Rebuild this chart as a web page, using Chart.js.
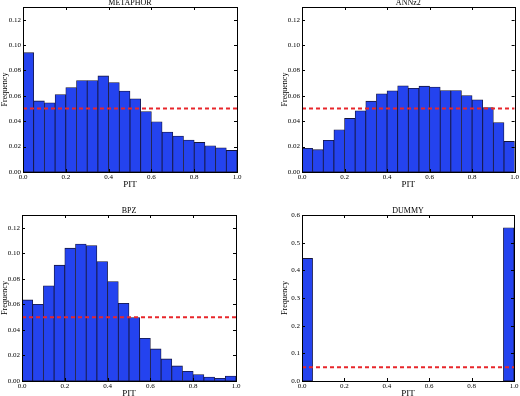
<!DOCTYPE html>
<html lang="en">
<head>
<meta charset="UTF-8">
<title>PIT histograms</title>
<script src="https://cdn.jsdelivr.net/npm/chart.js"></script>
<style>
    html, body {
        margin: 0;
        padding: 0;
        width: 520px;
        height: 396px;
        overflow: hidden;
        background: #ffffff;
    }
    .panel {
        position: absolute;
    }
</style>
</head>
<body>
<div class="panel" style="left:0;top:0;width:260px;height:200px"><canvas id="cMetaphor"></canvas></div>
<div class="panel" style="left:275px;top:0;width:245px;height:200px"><canvas id="cAnnz"></canvas></div>
<div class="panel" style="left:0;top:200px;width:260px;height:200px"><canvas id="cBpz"></canvas></div>
<div class="panel" style="left:275px;top:200px;width:245px;height:200px"><canvas id="cDummy"></canvas></div>

<script>
// bin centres of the 20 PIT bins (width 0.05)
const pitBins = [0.025, 0.075, 0.125, 0.175, 0.225, 0.275, 0.325, 0.375, 0.425, 0.475,
                 0.525, 0.575, 0.625, 0.675, 0.725, 0.775, 0.825, 0.875, 0.925, 0.975];

// frequencies
const metaphor = [0.094, 0.056, 0.0545, 0.061, 0.0665, 0.072, 0.072, 0.0757, 0.0705, 0.0637,
                  0.0576, 0.0477, 0.0396, 0.0314, 0.0283, 0.0252, 0.0233, 0.0207, 0.0191, 0.017];
const annz2 = [0.0186, 0.0176, 0.0249, 0.0333, 0.0422, 0.0482, 0.0558, 0.0616, 0.064, 0.0679,
               0.066, 0.0676, 0.067, 0.0642, 0.0642, 0.0603, 0.0569, 0.0508, 0.039, 0.0241];
const bpz = [0.0635, 0.0601, 0.0745, 0.0907, 0.104, 0.1072, 0.1061, 0.0936, 0.0779, 0.0609,
             0.0497, 0.0335, 0.0251, 0.0173, 0.0118, 0.0076, 0.005, 0.0031, 0.0021, 0.0039];
const dummy = [0.443, 0, 0, 0, 0, 0, 0, 0, 0, 0,
               0, 0, 0, 0, 0, 0, 0, 0, 0, 0.554];

// uniform reference level
const uniformLevel = [0.05, 0.05];
const uniformX = [0, 1];

const FONT = "'Liberation Serif', 'DejaVu Serif', serif";

// frame, inward ticks and panel title
const framePlugin = {
    id: 'frame',
    afterDatasetsDraw(chart, args, opts) {
        const ctx = chart.ctx;
        const a = chart.chartArea;
        ctx.save();
        ctx.strokeStyle = '#000';
        ctx.lineWidth = 1;
        ctx.beginPath();
        chart.scales.x.ticks.forEach(t => {
            const px = Math.round(chart.scales.x.getPixelForValue(t.value)) + 0.5;
            ctx.moveTo(px, a.bottom); ctx.lineTo(px, a.bottom - 3);
            ctx.moveTo(px, a.top); ctx.lineTo(px, a.top + 3);
        });
        chart.scales.y.ticks.forEach(t => {
            const py = Math.round(chart.scales.y.getPixelForValue(t.value)) + 0.5;
            ctx.moveTo(a.left, py); ctx.lineTo(a.left + 3, py);
            ctx.moveTo(a.right, py); ctx.lineTo(a.right - 3, py);
        });
        ctx.stroke();
        ctx.strokeRect(Math.round(a.left) + 0.5, Math.round(a.top) + 0.5,
                       Math.round(a.right - a.left), Math.round(a.bottom - a.top));
        ctx.fillStyle = '#000';
        ctx.font = '8px ' + FONT;
        ctx.textAlign = 'center';
        ctx.textBaseline = 'middle';
        ctx.fillText(opts.text, (a.left + a.right) / 2, a.top - 4);
        ctx.restore();
    }
};

function makePanel(id, title, values, yMax, yStep, yDigits, pad, yWidth) {
    const bars = values.map((v, i) => ({ x: pitBins[i], y: v }));
    const level = uniformX.map((x, i) => ({ x: x, y: uniformLevel[i] }));
    return new Chart(document.getElementById(id), {
        type: 'bar',
        data: {
            datasets: [{
                type: 'line',
                data: level,
                borderColor: '#e8262b',
                borderWidth: 2,
                borderDash: [4, 3],
                pointRadius: 0,
                order: 0
            }, {
                type: 'bar',
                data: bars,
                backgroundColor: '#2443ef',
                borderColor: '#15153a',
                borderWidth: 0.8,
                borderSkipped: false,
                categoryPercentage: 1.0,
                barPercentage: 1.0,
                order: 1
            }]
        },
        plugins: [framePlugin],
        options: {
            responsive: true,
            maintainAspectRatio: false,
            animation: false,
            events: [],
            layout: { padding: pad },
            plugins: {
                legend: { display: false },
                tooltip: { enabled: false },
                frame: { text: title }
            },
            scales: {
                x: {
                    type: 'linear',
                    min: 0,
                    max: 1,
                    offset: false,
                    grid: { display: false, drawTicks: false, offset: false },
                    border: { display: false },
                    ticks: {
                        stepSize: 0.2,
                        padding: 1,
                        maxRotation: 0,
                        color: '#000',
                        font: { family: FONT, size: 7 },
                        callback: v => v.toFixed(1)
                    },
                    title: {
                        display: true,
                        text: 'PIT',
                        color: '#000',
                        padding: 0,
                        font: { family: FONT, size: 9 }
                    },
                    afterFit: s => { s.height = 18; }
                },
                y: {
                    min: 0,
                    max: yMax,
                    grid: { display: false, drawTicks: false },
                    border: { display: false },
                    ticks: {
                        stepSize: yStep,
                        includeBounds: false,
                        padding: 2,
                        color: '#000',
                        font: { family: FONT, size: 7 },
                        callback: v => v.toFixed(yDigits)
                    },
                    title: {
                        display: true,
                        text: 'Frequency',
                        color: '#000',
                        padding: 0,
                        font: { family: FONT, size: 8 }
                    },
                    afterFit: s => { s.width = yWidth; }
                }
            }
        }
    });
}

makePanel('cMetaphor', 'METAPHOR', metaphor, 0.13, 0.02, 2,
          { left: 0, top: 7, right: 23, bottom: 10 }, 23);
makePanel('cAnnz', 'ANNz2', annz2, 0.13, 0.02, 2,
          { left: 5, top: 7, right: 5, bottom: 10 }, 22);
makePanel('cBpz', 'BPZ', bpz, 0.13, 0.02, 2,
          { left: 0, top: 15, right: 24, bottom: 1 }, 22);
makePanel('cDummy', 'DUMMY', dummy, 0.6, 0.1, 1,
          { left: 5, top: 15, right: 6, bottom: 1 }, 22);
</script>
</body>
</html>
